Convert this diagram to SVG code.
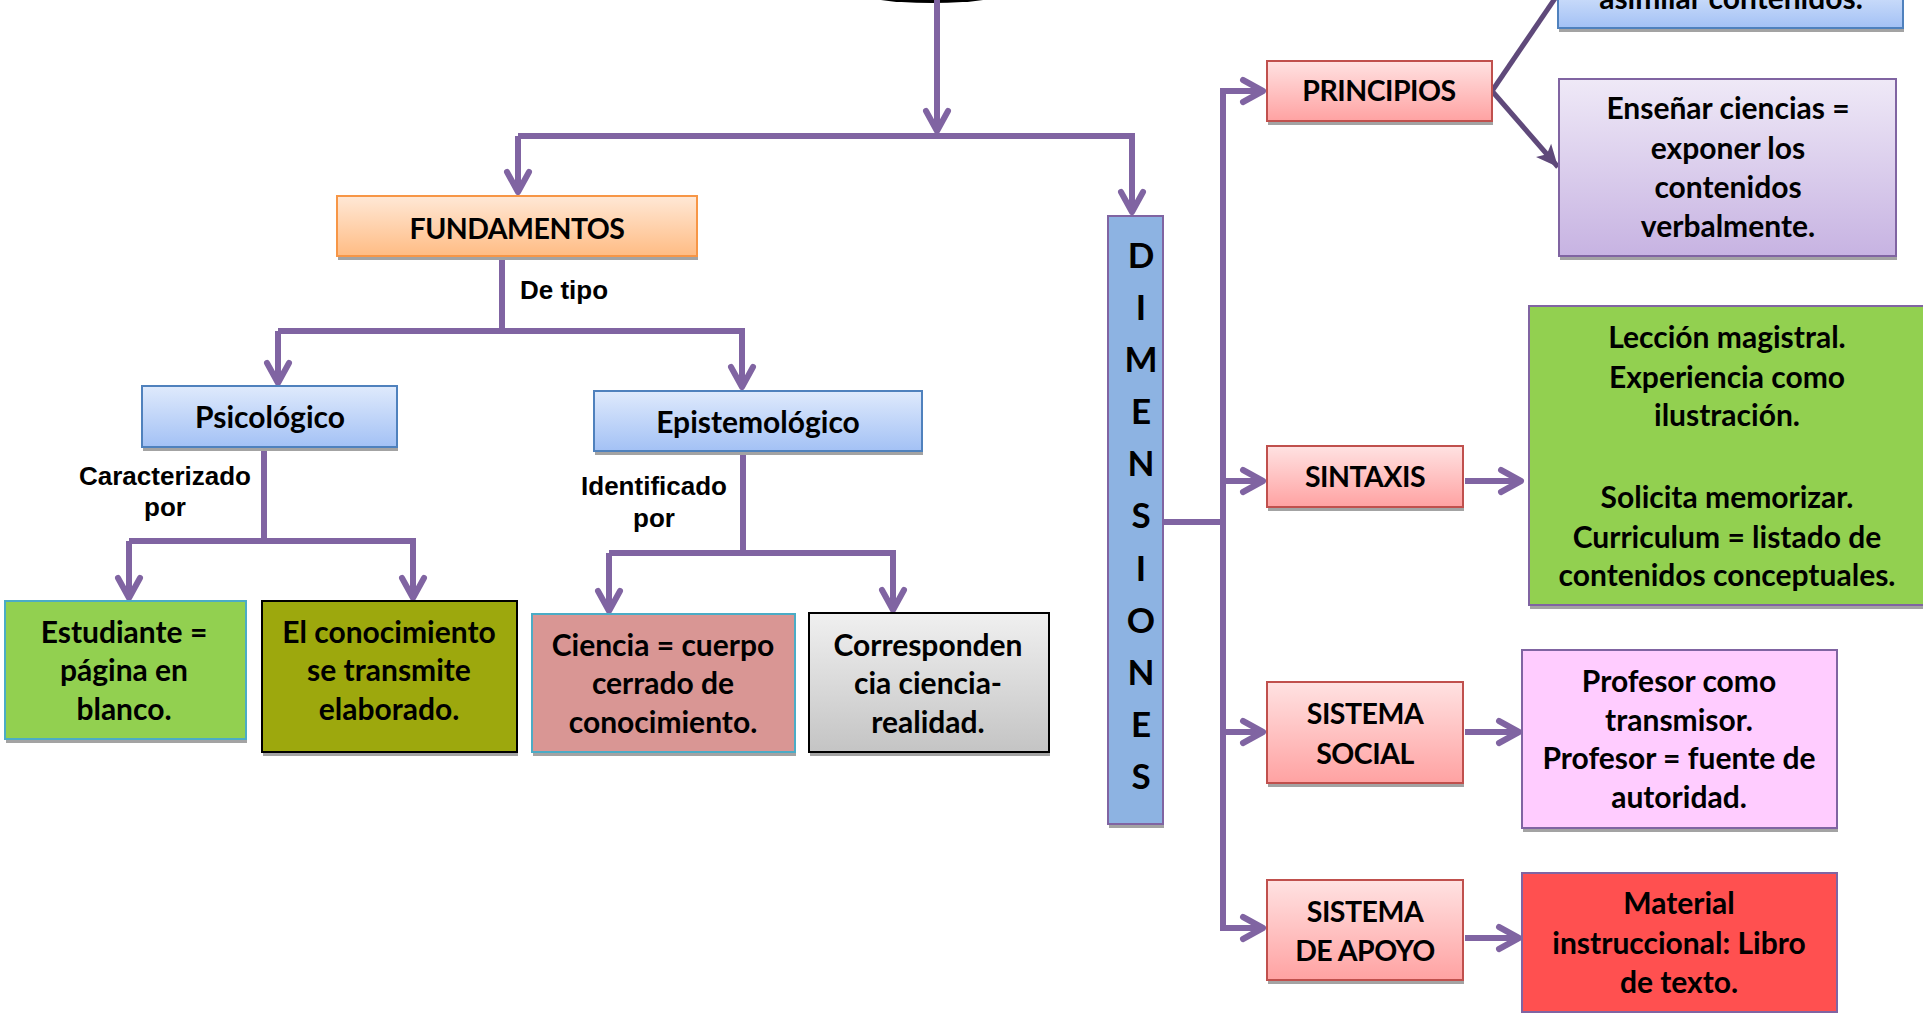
<svg xmlns="http://www.w3.org/2000/svg" width="1923" height="1013" viewBox="0 0 1923 1013">
  <style>
    .box-text { font-family: Lato, "Open Sans", "Liberation Sans", sans-serif; font-weight: 700; font-size: 30px; fill: #000; text-anchor: middle; }
    .caps { font-size: 28.5px; letter-spacing: -0.5px; }
    .dim-text { font-family: Lato, "Open Sans", "Liberation Sans", sans-serif; font-weight: 700; font-size: 35px; fill: #000; text-anchor: middle; }
    .label { font-family: "Liberation Sans", Arial, sans-serif; font-weight: 700; font-size: 26px; fill: #000; }
    .shadow { fill: #a3a3a3; }
    .conn { fill: none; stroke: #8064A2; stroke-width: 6; }
    .conn-arrow { fill: none; stroke: #8064A2; stroke-width: 6; marker-end: url(#chevron); }
    .conn-dark { fill: none; stroke: #5F497A; stroke-width: 5; }
  </style>
  <defs>
    <marker id="chevron" viewBox="-26 -15 30 30" refX="0" refY="0" markerWidth="30" markerHeight="30" markerUnits="userSpaceOnUse" orient="auto">
      <path d="M-21,-11 L-1,0 L-21,11" fill="none" stroke="#8064A2" stroke-width="6" stroke-linecap="round" stroke-linejoin="round"/>
    </marker>
    <marker id="solid-head" viewBox="-24 -12 26 24" refX="0" refY="0" markerWidth="26" markerHeight="24" markerUnits="userSpaceOnUse" orient="auto">
      <path d="M0,0 L-22,-10 L-17,0 L-22,10 Z" fill="#5F497A"/>
    </marker>
    <linearGradient id="g-orange" x1="0" y1="0" x2="0" y2="1">
      <stop offset="0" stop-color="#FFE8D6"/>
      <stop offset="1" stop-color="#FFBC84"/>
    </linearGradient>
    <linearGradient id="g-blue" x1="0" y1="0" x2="0" y2="1">
      <stop offset="0" stop-color="#DFEAFC"/>
      <stop offset="1" stop-color="#A3C1F5"/>
    </linearGradient>
    <linearGradient id="g-red" x1="0" y1="0" x2="0" y2="1">
      <stop offset="0" stop-color="#FFE2E2"/>
      <stop offset="1" stop-color="#FFA2A2"/>
    </linearGradient>
    <linearGradient id="g-gray" x1="0" y1="0" x2="0" y2="1">
      <stop offset="0" stop-color="#F0F0F0"/>
      <stop offset="1" stop-color="#C4C4C4"/>
    </linearGradient>
    <linearGradient id="g-lilac" x1="0" y1="0" x2="0" y2="1">
      <stop offset="0" stop-color="#EFE9F7"/>
      <stop offset="1" stop-color="#C7B3E2"/>
    </linearGradient>
  </defs>

  <rect width="1923" height="1013" fill="#ffffff"/>

  <!-- root shape, cut by the top edge -->
  <g id="root">
    <ellipse cx="932" cy="-10" rx="80" ry="13" fill="#000000"/>
  </g>

  <!-- connectors -->
  <g id="connectors">
    <path class="conn-arrow" d="M937,0 V132"/>
    <path class="conn-arrow" d="M518,136 V193"/>
    <path class="conn-arrow" d="M518,136 H1132 V213"/>

    <path class="conn" d="M502,258 V331"/>
    <path class="conn-arrow" d="M278,331 V384"/>
    <path class="conn-arrow" d="M278,331 H742 V388"/>

    <path class="conn" d="M264,449 V541"/>
    <path class="conn-arrow" d="M129,541 V599"/>
    <path class="conn-arrow" d="M129,541 H413 V599"/>

    <path class="conn" d="M743,453 V553"/>
    <path class="conn-arrow" d="M609,553 V612"/>
    <path class="conn-arrow" d="M609,553 H893 V611"/>

    <path class="conn" d="M1163,522 H1223"/>
    <path class="conn" d="M1223,88 V931"/>
    <path class="conn-arrow" d="M1220,91 H1264"/>
    <path class="conn-arrow" d="M1223,481 H1264"/>
    <path class="conn-arrow" d="M1223,732 H1264"/>
    <path class="conn-arrow" d="M1220,928 H1264"/>

    <path class="conn-arrow" d="M1465,481 H1522"/>
    <path class="conn-arrow" d="M1465,732 H1520"/>
    <path class="conn-arrow" d="M1465,938 H1520"/>

    <path class="conn-dark" d="M1492,91 L1556,-3"/>
    <path class="conn-dark" d="M1492,91 L1558,167" marker-end="url(#solid-head)"/>
  </g>

  <!-- left branch -->
  <g id="fundamentos">
    <rect class="shadow" x="338" y="200" width="360" height="60"/>
    <rect x="337" y="196" width="360" height="60" fill="url(#g-orange)" stroke="#F79646" stroke-width="2"/>
    <text class="box-text caps" x="517" y="239">FUNDAMENTOS</text>
  </g>
  <text class="label" x="520" y="299">De tipo</text>

  <g id="psicologico">
    <rect class="shadow" x="143" y="390" width="255" height="61"/>
    <rect x="142" y="386" width="255" height="61" fill="url(#g-blue)" stroke="#4F81BD" stroke-width="2"/>
    <text class="box-text" x="270" y="428">Psicológico</text>
  </g>
  <text class="label" text-anchor="middle" x="165" y="485">Caracterizado</text>
  <text class="label" text-anchor="middle" x="165" y="516">por</text>

  <g id="epistemologico">
    <rect class="shadow" x="595" y="395" width="328" height="60"/>
    <rect x="594" y="391" width="328" height="60" fill="url(#g-blue)" stroke="#4F81BD" stroke-width="2"/>
    <text class="box-text" x="758" y="433">Epistemológico</text>
  </g>
  <text class="label" text-anchor="middle" x="654" y="495">Identificado</text>
  <text class="label" text-anchor="middle" x="654" y="527">por</text>

  <g id="estudiante">
    <rect class="shadow" x="6" y="605" width="241" height="138"/>
    <rect x="5" y="601" width="241" height="138" fill="#92D050" stroke="#4BACC6" stroke-width="2"/>
    <text class="box-text" x="124" y="643">Estudiante =</text>
    <text class="box-text" x="124" y="681">página en</text>
    <text class="box-text" x="124" y="720">blanco.</text>
  </g>

  <g id="conocimiento">
    <rect class="shadow" x="263" y="605" width="255" height="151"/>
    <rect x="262" y="601" width="255" height="151" fill="#9DA80D" stroke="#000000" stroke-width="2"/>
    <text class="box-text" x="389" y="643">El conocimiento</text>
    <text class="box-text" x="389" y="681">se transmite</text>
    <text class="box-text" x="389" y="720">elaborado.</text>
  </g>

  <g id="ciencia">
    <rect class="shadow" x="533" y="618" width="263" height="138"/>
    <rect x="532" y="614" width="263" height="138" fill="#D99694" stroke="#4BACC6" stroke-width="2"/>
    <text class="box-text" x="663" y="656">Ciencia = cuerpo</text>
    <text class="box-text" x="663" y="694">cerrado de</text>
    <text class="box-text" x="663" y="733">conocimiento.</text>
  </g>

  <g id="correspondencia">
    <rect class="shadow" x="810" y="617" width="240" height="139"/>
    <rect x="809" y="613" width="240" height="139" fill="url(#g-gray)" stroke="#000000" stroke-width="2"/>
    <text class="box-text" x="928" y="656">Corresponden</text>
    <text class="box-text" x="928" y="694">cia ciencia-</text>
    <text class="box-text" x="928" y="733">realidad.</text>
  </g>

  <!-- vertical title -->
  <g id="dimensiones">
    <rect class="shadow" x="1109" y="220" width="55" height="608"/>
    <rect x="1108" y="216" width="55" height="608" fill="#8DB3E2" stroke="#8064A2" stroke-width="2"/>
    <text class="dim-text" x="1141" y="268">D</text>
    <text class="dim-text" x="1141" y="320">I</text>
    <text class="dim-text" x="1141" y="372">M</text>
    <text class="dim-text" x="1141" y="424">E</text>
    <text class="dim-text" x="1141" y="476">N</text>
    <text class="dim-text" x="1141" y="528">S</text>
    <text class="dim-text" x="1141" y="581">I</text>
    <text class="dim-text" x="1141" y="633">O</text>
    <text class="dim-text" x="1141" y="685">N</text>
    <text class="dim-text" x="1141" y="737">E</text>
    <text class="dim-text" x="1141" y="789">S</text>
  </g>

  <!-- right branch -->
  <g id="principios">
    <rect class="shadow" x="1268" y="65" width="225" height="60"/>
    <rect x="1267" y="61" width="225" height="60" fill="url(#g-red)" stroke="#C0504D" stroke-width="2"/>
    <text class="box-text caps" x="1379" y="101">PRINCIPIOS</text>
  </g>

  <g id="asimilar">
    <rect class="shadow" x="1559" y="-16" width="345" height="48"/>
    <rect x="1558" y="-20" width="345" height="48" fill="url(#g-blue)" stroke="#4F81BD" stroke-width="2"/>
    <text class="box-text" x="1731" y="9">asimilar contenidos.</text>
  </g>

  <g id="ensenar">
    <rect class="shadow" x="1560" y="83" width="337" height="177"/>
    <rect x="1559" y="79" width="337" height="177" fill="url(#g-lilac)" stroke="#8064A2" stroke-width="2"/>
    <text class="box-text" x="1728" y="119">Enseñar ciencias =</text>
    <text class="box-text" x="1728" y="159">exponer los</text>
    <text class="box-text" x="1728" y="198">contenidos</text>
    <text class="box-text" x="1728" y="237">verbalmente.</text>
  </g>

  <g id="sintaxis">
    <rect class="shadow" x="1268" y="450" width="196" height="61"/>
    <rect x="1267" y="446" width="196" height="61" fill="url(#g-red)" stroke="#C0504D" stroke-width="2"/>
    <text class="box-text caps" x="1365" y="487">SINTAXIS</text>
  </g>

  <g id="leccion">
    <rect class="shadow" x="1530" y="310" width="400" height="299"/>
    <rect x="1529" y="306" width="400" height="299" fill="#92D050" stroke="#8064A2" stroke-width="2"/>
    <text class="box-text" x="1727" y="348">Lección magistral.</text>
    <text class="box-text" x="1727" y="388">Experiencia como</text>
    <text class="box-text" x="1727" y="426">ilustración.</text>
    <text class="box-text" x="1727" y="508">Solicita memorizar.</text>
    <text class="box-text" x="1727" y="548">Curriculum = listado de</text>
    <text class="box-text" x="1727" y="586">contenidos conceptuales.</text>
  </g>

  <g id="sistema-social">
    <rect class="shadow" x="1268" y="686" width="196" height="101"/>
    <rect x="1267" y="682" width="196" height="101" fill="url(#g-red)" stroke="#C0504D" stroke-width="2"/>
    <text class="box-text caps" x="1365" y="724">SISTEMA</text>
    <text class="box-text caps" x="1365" y="764">SOCIAL</text>
  </g>

  <g id="profesor">
    <rect class="shadow" x="1523" y="654" width="315" height="178"/>
    <rect x="1522" y="650" width="315" height="178" fill="#FFCCFF" stroke="#8064A2" stroke-width="2"/>
    <text class="box-text" x="1679" y="692">Profesor como</text>
    <text class="box-text" x="1679" y="731">transmisor.</text>
    <text class="box-text" x="1679" y="769">Profesor = fuente de</text>
    <text class="box-text" x="1679" y="808">autoridad.</text>
  </g>

  <g id="sistema-apoyo">
    <rect class="shadow" x="1268" y="884" width="196" height="100"/>
    <rect x="1267" y="880" width="196" height="100" fill="url(#g-red)" stroke="#C0504D" stroke-width="2"/>
    <text class="box-text caps" x="1365" y="922">SISTEMA</text>
    <text class="box-text caps" x="1365" y="961">DE APOYO</text>
  </g>

  <g id="material">
    <rect x="1522" y="873" width="315" height="139" fill="#FF5050" stroke="#8064A2" stroke-width="2"/>
    <text class="box-text" x="1679" y="914">Material</text>
    <text class="box-text" x="1679" y="954">instruccional: Libro</text>
    <text class="box-text" x="1679" y="993">de texto.</text>
  </g>
</svg>
